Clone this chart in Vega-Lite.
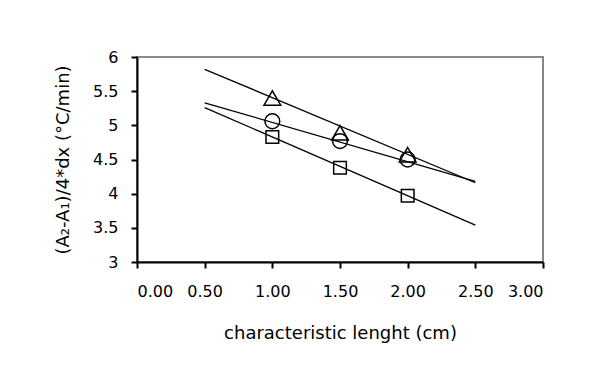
{
  "$schema": "https://vega.github.io/schema/vega-lite/v6.json",
  "autosize": "none",
  "width": 406,
  "height": 205,
  "padding": {"left": 137, "top": 57, "right": 47, "bottom": 118},
  "background": "white",
  "config": {
    "font": "DejaVu Sans",
    "view": {"stroke": "#888888", "strokeWidth": 2},
    "axisX": {"values": [0, 0.5, 1, 1.5, 2, 2.5, 3], "format": ".2f", "grid": false, "domainColor": "black", "domainWidth": 2, "tickColor": "black", "tickWidth": 2, "tickSize": 6, "labelColor": "black", "labelFont": "DejaVu Sans", "labelFontSize": 16, "labelPadding": 15, "labelOverlap": false, "titleFont": "DejaVu Sans", "titleFontSize": 18, "titleFontWeight": "normal", "titleColor": "black", "titlePadding": 25},
    "axisY": {"values": [3, 3.5, 4, 4.5, 5, 5.5, 6], "format": "~g", "grid": false, "domainColor": "black", "domainWidth": 2, "tickColor": "black", "tickWidth": 2, "tickSize": 6, "labelColor": "black", "labelFont": "DejaVu Sans", "labelFontSize": 16, "labelPadding": 13, "labelOverlap": false, "titleFont": "DejaVu Sans", "titleFontSize": 18, "titleFontWeight": "normal", "titleColor": "black", "titlePadding": 20}
  },
  "datasets": {
    "points": [
      {"x": 1.0, "y": 5.40, "series": "triangle"},
      {"x": 1.5, "y": 4.89, "series": "triangle"},
      {"x": 2.0, "y": 4.57, "series": "triangle"},
      {"x": 1.0, "y": 5.06, "series": "circle"},
      {"x": 1.5, "y": 4.77, "series": "circle"},
      {"x": 2.0, "y": 4.50, "series": "circle"},
      {"x": 1.0, "y": 4.83, "series": "square"},
      {"x": 1.5, "y": 4.38, "series": "square"},
      {"x": 2.0, "y": 3.97, "series": "square"}
    ],
    "trends": [
      {"x": 0.5, "y": 5.82, "series": "triangle"},
      {"x": 2.5, "y": 4.16, "series": "triangle"},
      {"x": 0.5, "y": 5.33, "series": "circle"},
      {"x": 2.5, "y": 4.18, "series": "circle"},
      {"x": 0.5, "y": 5.26, "series": "square"},
      {"x": 2.5, "y": 3.54, "series": "square"}
    ]
  },
  "layer": [
    {
      "data": {"name": "trends"},
      "mark": {"type": "line", "color": "black", "strokeWidth": 1.3},
      "encoding": {
        "x": {"field": "x", "type": "quantitative", "scale": {"domain": [0, 3], "nice": false}, "axis": {"title": "characteristic lenght (cm)", "values": [0, 0.5, 1, 1.5, 2, 2.5, 3]}},
        "y": {"field": "y", "type": "quantitative", "scale": {"domain": [3, 6], "nice": false}, "axis": {"title": "(A₂-A₁)/4*dx (°C/min)", "values": [3, 3.5, 4, 4.5, 5, 5.5, 6], "tickCount": 7}},
        "detail": {"field": "series"}
      }
    },
    {
      "data": {"name": "points"},
      "mark": {"type": "point", "filled": false, "color": "black", "strokeWidth": 1.5, "opacity": 1},
      "encoding": {
        "x": {"field": "x", "type": "quantitative", "axis": {"title": "characteristic lenght (cm)", "values": [0, 0.5, 1, 1.5, 2, 2.5, 3]}},
        "y": {"field": "y", "type": "quantitative", "axis": {"title": "(A₂-A₁)/4*dx (°C/min)", "values": [3, 3.5, 4, 4.5, 5, 5.5, 6], "tickCount": 7}},
        "shape": {"field": "series", "type": "nominal", "scale": {"domain": ["triangle", "circle", "square"], "range": ["triangle-up", "circle", "square"]}, "legend": null},
        "size": {"field": "series", "type": "nominal", "scale": {"domain": ["triangle", "circle", "square"], "range": [280, 160, 220]}, "legend": null}
      }
    }
  ]
}
